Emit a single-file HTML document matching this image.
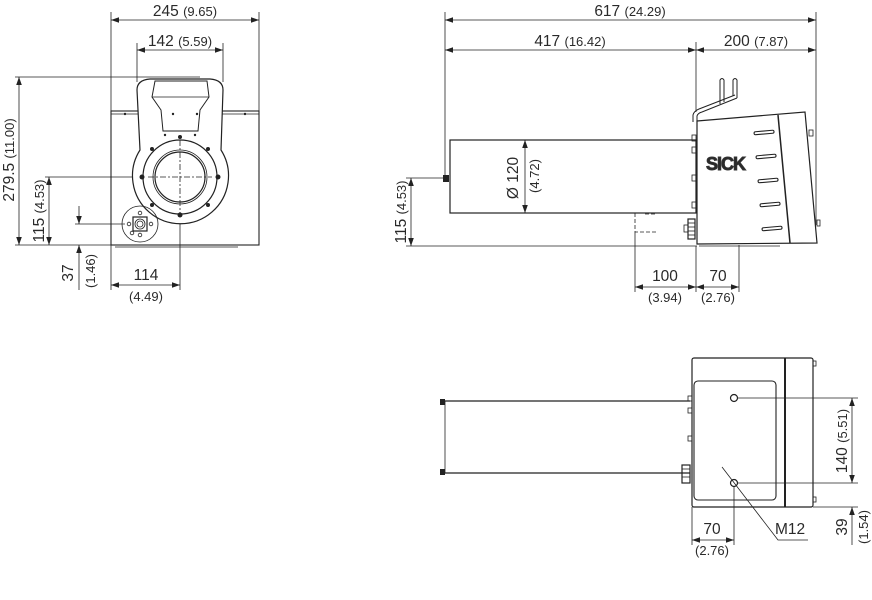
<!DOCTYPE html>
<html><head><meta charset="utf-8"><style>
html,body{margin:0;padding:0;background:#fff;}
svg{display:block;}
text{font-family:"Liberation Sans",sans-serif;fill:#2a2a2a;}
</style></head><body>
<svg width="872" height="600" viewBox="0 0 872 600" xmlns="http://www.w3.org/2000/svg">
<defs>
<marker id="a" viewBox="0 0 10 10" refX="10" refY="5" markerWidth="8" markerHeight="8" orient="auto-start-reverse" markerUnits="userSpaceOnUse"><path d="M0,1.5 L10,5 L0,8.5 z" fill="#222"/></marker>
</defs>
<g stroke="#222" fill="none" stroke-width="0.8">
<!-- LEFT VIEW dims -->
<line x1="111" y1="12" x2="111" y2="111"/><line x1="259" y1="12" x2="259" y2="111"/>
<line x1="111" y1="20" x2="259" y2="20" marker-start="url(#a)" marker-end="url(#a)"/>
<line x1="137" y1="43" x2="137" y2="82"/><line x1="223" y1="43" x2="223" y2="82"/>
<line x1="137" y1="50" x2="223" y2="50" marker-start="url(#a)" marker-end="url(#a)"/>
<line x1="15" y1="77" x2="200" y2="77"/><line x1="15" y1="245" x2="111" y2="245"/>
<line x1="19" y1="77" x2="19" y2="245" marker-start="url(#a)" marker-end="url(#a)"/>
<line x1="45" y1="177" x2="150" y2="177"/>
<line x1="49" y1="177" x2="49" y2="245" marker-start="url(#a)" marker-end="url(#a)"/>
<line x1="75" y1="224" x2="125" y2="224"/>
<line x1="79" y1="206" x2="79" y2="224" marker-end="url(#a)"/>
<line x1="79" y1="290" x2="79" y2="245" marker-end="url(#a)"/>
<line x1="111" y1="245" x2="111" y2="290"/><line x1="180" y1="140" x2="180" y2="290"/>
<line x1="111" y1="285" x2="180" y2="285" marker-start="url(#a)" marker-end="url(#a)"/>
<!-- left device -->
<rect x="111" y="111" width="148" height="134" stroke-width="1.1"/>
<line x1="111" y1="114" x2="259" y2="114"/>
<line x1="115" y1="247" x2="238" y2="247"/>
<path d="M140,150 L137,90 Q137,80 150,79 L210,79 Q223,80 223,90 L221,150 A48,48 0 1 1 140,150 Z" fill="#fff" stroke-width="1.2"/>
<path d="M155,81 L207,81 L209,97 L200,110 L198,131 L163,131 L161,110 L152,97 Z" stroke-width="1"/>
<line x1="152" y1="97" x2="209" y2="97"/>
<circle cx="180" cy="177" r="37" stroke-width="1.2"/>
<circle cx="180" cy="177" r="27"/>
<circle cx="180" cy="177" r="25" stroke-width="1.2"/>
<line x1="148" y1="177" x2="212" y2="177" stroke-dasharray="6,2,2,2"/>
<line x1="180" y1="140" x2="180" y2="214" stroke-dasharray="6,2,2,2"/>
<circle cx="140" cy="224" r="18"/>
<rect x="133" y="217" width="14" height="14" stroke-width="1.2"/>
<circle cx="140" cy="224" r="5"/><circle cx="140" cy="224" r="3"/>
<circle cx="129" cy="224" r="1.8"/><circle cx="151" cy="224" r="1.8"/><circle cx="140" cy="213" r="1.8"/><circle cx="140" cy="235" r="1.8"/><circle cx="132" cy="233" r="1.8"/>
</g>
<g fill="#222">
<circle cx="180" cy="137" r="2"/><circle cx="152" cy="149" r="2"/><circle cx="208" cy="149" r="2"/>
<circle cx="152" cy="205" r="2"/><circle cx="208" cy="205" r="2"/><circle cx="180" cy="215" r="2.5"/>
<circle cx="142" cy="177" r="2.5"/><circle cx="218" cy="177" r="2.5"/>
<circle cx="165" cy="135" r="1.2"/><circle cx="195" cy="135" r="1.2"/>
<circle cx="125" cy="114" r="1.2"/><circle cx="173" cy="114" r="1.2"/><circle cx="197" cy="114" r="1.2"/><circle cx="245" cy="114" r="1.2"/>
</g>
<g font-size="15.5">
<text x="185" y="16" text-anchor="middle">245 <tspan font-size="13">(9.65)</tspan></text>
<text x="180" y="46" text-anchor="middle">142 <tspan font-size="13">(5.59)</tspan></text>
<text transform="translate(14,160) rotate(-90)" text-anchor="middle">279.5 <tspan font-size="13">(11.00)</tspan></text>
<text transform="translate(44,211) rotate(-90)" text-anchor="middle">115 <tspan font-size="13">(4.53)</tspan></text>
<text transform="translate(73,273) rotate(-90)" text-anchor="middle">37</text>
<text transform="translate(95,271) rotate(-90)" text-anchor="middle" font-size="13">(1.46)</text>
<text x="146" y="280" text-anchor="middle">114</text>
<text x="146" y="301" text-anchor="middle" font-size="13">(4.49)</text>
</g>
<!-- RIGHT TOP VIEW -->
<g stroke="#222" fill="none" stroke-width="0.8">
<line x1="445" y1="12" x2="445" y2="176"/><line x1="816" y1="12" x2="816" y2="225"/>
<line x1="696" y1="42" x2="696" y2="112"/>
<line x1="445" y1="20" x2="816" y2="20" marker-start="url(#a)" marker-end="url(#a)"/>
<line x1="445" y1="50" x2="696" y2="50" marker-start="url(#a)" marker-end="url(#a)"/>
<line x1="696" y1="50" x2="816" y2="50" marker-start="url(#a)" marker-end="url(#a)"/>
<line x1="406" y1="178" x2="445" y2="178"/><line x1="406" y1="246" x2="697" y2="246"/>
<line x1="411" y1="178" x2="411" y2="246" marker-start="url(#a)" marker-end="url(#a)"/>
<line x1="525" y1="140" x2="525" y2="213" marker-start="url(#a)" marker-end="url(#a)"/>
<rect x="450" y="140" width="246" height="73" stroke-width="1.2"/>
<path d="M635,213 V232 H657" stroke-dasharray="4,2"/><line x1="645" y1="214" x2="657" y2="214" stroke-dasharray="4,2"/>
<line x1="635" y1="232" x2="635" y2="292"/><line x1="696" y1="246" x2="696" y2="292"/><line x1="739" y1="245" x2="739" y2="292"/>
<line x1="635" y1="287" x2="696" y2="287" marker-start="url(#a)" marker-end="url(#a)"/>
<line x1="696" y1="287" x2="739" y2="287" marker-start="url(#a)" marker-end="url(#a)"/>
<path d="M697,121 L805,112 L817,243 L697,244 Z" stroke-width="1.2" fill="#fff"/>
<line x1="778" y1="115" x2="790" y2="243" stroke-width="1.5"/>
<line x1="699" y1="246" x2="780" y2="246"/>
<path d="M693,122 L693,115 Q694,111 699,109 L735,95" stroke-width="1"/>
<path d="M697,121 L697,116 Q698,113 702,112 L737,98" stroke-width="1"/>
<path d="M720,104 V80 Q722,77 724,80 V102" stroke-width="1"/>
<path d="M733,96 V80 Q735,77 737,80 V98" stroke-width="1"/>
<g stroke-width="1.1">
<rect x="754" y="131" width="20" height="3" rx="1.5" transform="rotate(-5 764 132)"/>
<rect x="756" y="155" width="20" height="3" rx="1.5" transform="rotate(-5 766 156)"/>
<rect x="758" y="179" width="20" height="3" rx="1.5" transform="rotate(-5 768 180)"/>
<rect x="760" y="203" width="20" height="3" rx="1.5" transform="rotate(-5 770 204)"/>
<rect x="762" y="227" width="20" height="3" rx="1.5" transform="rotate(-5 772 228)"/>
</g>
<rect x="692" y="135" width="4" height="6"/><rect x="692" y="147" width="4" height="6"/><rect x="692" y="175" width="4" height="6"/><rect x="692" y="202" width="4" height="6"/>
<rect x="688" y="219" width="7" height="20" stroke-width="1.2"/>
<line x1="688" y1="223" x2="695" y2="223"/><line x1="688" y1="227" x2="695" y2="227"/><line x1="688" y1="231" x2="695" y2="231"/><line x1="688" y1="235" x2="695" y2="235"/>
<rect x="684" y="225" width="4" height="7"/>
<rect x="809" y="130" width="4" height="6"/><rect x="817" y="220" width="3" height="6"/>
</g>
<rect x="443" y="175" width="6" height="7" fill="#222"/>
<text x="706" y="170" font-size="18" font-weight="bold" fill="#fff" stroke="#333" stroke-width="0.9" style="letter-spacing:-1px">SICK</text>
<g font-size="15.5">
<text x="630" y="16" text-anchor="middle">617 <tspan font-size="13">(24.29)</tspan></text>
<text x="570" y="46" text-anchor="middle">417 <tspan font-size="13">(16.42)</tspan></text>
<text x="756" y="46" text-anchor="middle">200 <tspan font-size="13">(7.87)</tspan></text>
<text transform="translate(406,212) rotate(-90)" text-anchor="middle">115 <tspan font-size="13">(4.53)</tspan></text>
<text transform="translate(518,178) rotate(-90)" text-anchor="middle">Ø 120</text>
<text transform="translate(539,176) rotate(-90)" text-anchor="middle" font-size="13">(4.72)</text>
<text x="665" y="281" text-anchor="middle">100</text>
<text x="665" y="302" text-anchor="middle" font-size="13">(3.94)</text>
<text x="718" y="281" text-anchor="middle">70</text>
<text x="718" y="302" text-anchor="middle" font-size="13">(2.76)</text>
</g>
<!-- BOTTOM VIEW -->
<g stroke="#222" fill="none" stroke-width="0.8">
<line x1="445" y1="401" x2="690" y2="401" stroke-width="1.2"/>
<line x1="445" y1="473" x2="690" y2="473" stroke-width="1.2"/>
<line x1="445" y1="401" x2="445" y2="473"/>
<rect x="692" y="358" width="121" height="149" rx="2" stroke-width="1.2"/>
<rect x="694" y="381" width="82" height="119" rx="4" stroke-width="1.1"/>
<line x1="785" y1="358" x2="785" y2="507" stroke-width="2"/>
<circle cx="734" cy="398" r="3.5" stroke-width="1.2"/>
<circle cx="734" cy="483" r="3.5" stroke-width="1.2"/>
<line x1="738" y1="398" x2="858" y2="398"/><line x1="738" y1="483" x2="858" y2="483"/><line x1="813" y1="507" x2="858" y2="507"/>
<line x1="852" y1="398" x2="852" y2="483" marker-start="url(#a)" marker-end="url(#a)"/>
<line x1="852" y1="545" x2="852" y2="507" marker-end="url(#a)"/>
<line x1="692" y1="507" x2="692" y2="545"/><line x1="734" y1="487" x2="734" y2="545"/>
<line x1="692" y1="540" x2="734" y2="540" marker-start="url(#a)" marker-end="url(#a)"/>
<path d="M722,467 L778,540 L808,540"/>
<rect x="688" y="396" width="4" height="5"/><rect x="688" y="408" width="4" height="5"/><rect x="688" y="436" width="4" height="5"/>
<rect x="682" y="465" width="8" height="18" stroke-width="1.2"/>
<line x1="682" y1="469" x2="690" y2="469"/><line x1="682" y1="473" x2="690" y2="473"/><line x1="682" y1="477" x2="690" y2="477"/>
<rect x="813" y="361" width="3" height="5"/><rect x="813" y="497" width="3" height="5"/>
</g>
<rect x="440" y="399" width="5" height="6" fill="#222"/><rect x="440" y="469" width="5" height="6" fill="#222"/>
<g font-size="15.5">
<text transform="translate(847,441) rotate(-90)" text-anchor="middle">140 <tspan font-size="13">(5.51)</tspan></text>
<text transform="translate(847,527) rotate(-90)" text-anchor="middle">39</text>
<text transform="translate(868,527) rotate(-90)" text-anchor="middle" font-size="13">(1.54)</text>
<text x="712" y="534" text-anchor="middle">70</text>
<text x="712" y="555" text-anchor="middle" font-size="13">(2.76)</text>
<text x="775" y="534">M12</text>
</g>
</svg>
</body></html>
